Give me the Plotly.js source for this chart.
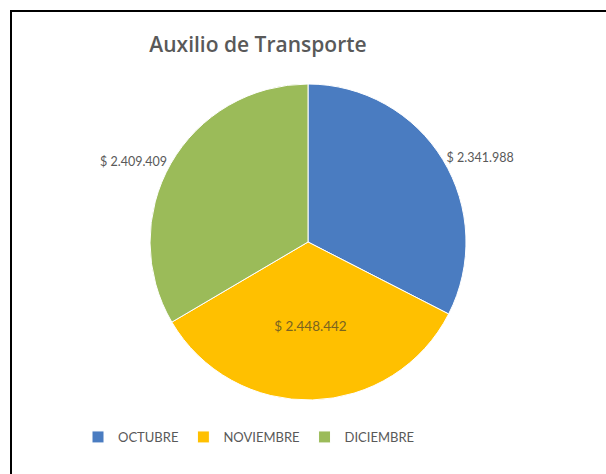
<!DOCTYPE html>
<html>
<head>
<meta charset="utf-8">
<script src="https://cdn.plot.ly/plotly-3.0.1.min.js"></script>
<style>
  html, body { margin: 0; padding: 0; background: #fff; }
  #wrap { position: relative; width: 606px; height: 474px; overflow: hidden; }
  #chart { position: absolute; left: 0; top: 0; width: 606px; height: 474px; }
  #frame { position: absolute; left: 10px; top: 10px; width: 620px; height: 500px;
           border-left: 2px solid #000; border-top: 2px solid #000; pointer-events: none; }
</style>
</head>
<body>
<div id="wrap">
  <div id="chart"></div>
  <div id="frame"></div>
</div>
<script>
const categories = ['OCTUBRE', 'NOVIEMBRE', 'DICIEMBRE'];
const values = [2341988, 2448442, 2409409];
const colors = ['#4a7cc1', '#ffc000', '#9bbb59'];
const labelPositions = ['outside', 'inside', 'outside'];

const trace = {
  type: 'pie',
  labels: categories,
  values: values,
  sort: false,
  direction: 'clockwise',
  rotation: 0,
  marker: { colors: colors, line: { color: '#ffffff', width: 1 } },
  texttemplate: '$ %{value:,}',
  textposition: labelPositions,
  textfont: { family: 'Lato, "Open Sans", sans-serif', size: 12.5, color: '#595959' },
  insidetextfont: { family: 'Lato, "Open Sans", sans-serif', size: 13.5, color: '#7a6420' },
  outsidetextfont: { family: 'Lato, "Open Sans", sans-serif', size: 12.5, color: '#595959' },
  insidetextorientation: 'horizontal',
  hoverinfo: 'label+value',
  domain: { x: [150/606, 466/606], y: [1 - 400/474, 1 - 84/474] }
};

const layout = {
  width: 606,
  height: 474,
  margin: { l: 0, r: 0, t: 0, b: 0 },
  paper_bgcolor: '#ffffff',
  separators: ',.',
  title: {
    text: 'Auxilio de Transporte',
    x: 258/606, xanchor: 'center', xref: 'paper',
    y: 1 - 45/474, yanchor: 'middle', yref: 'paper',
    font: { family: '"Open Sans", Lato, sans-serif', size: 21, color: '#595959', weight: 600 }
  },
  showlegend: true,
  legend: {
    orientation: 'h',
    x: 249/606, xanchor: 'center',
    y: 1 - 437/474, yanchor: 'middle',
    font: { family: 'Lato, "Open Sans", sans-serif', size: 13, color: '#595959' },
    traceorder: 'normal'
  }
};

Plotly.newPlot('chart', [trace], layout, { displayModeBar: false, staticPlot: true });
</script>
</body>
</html>
